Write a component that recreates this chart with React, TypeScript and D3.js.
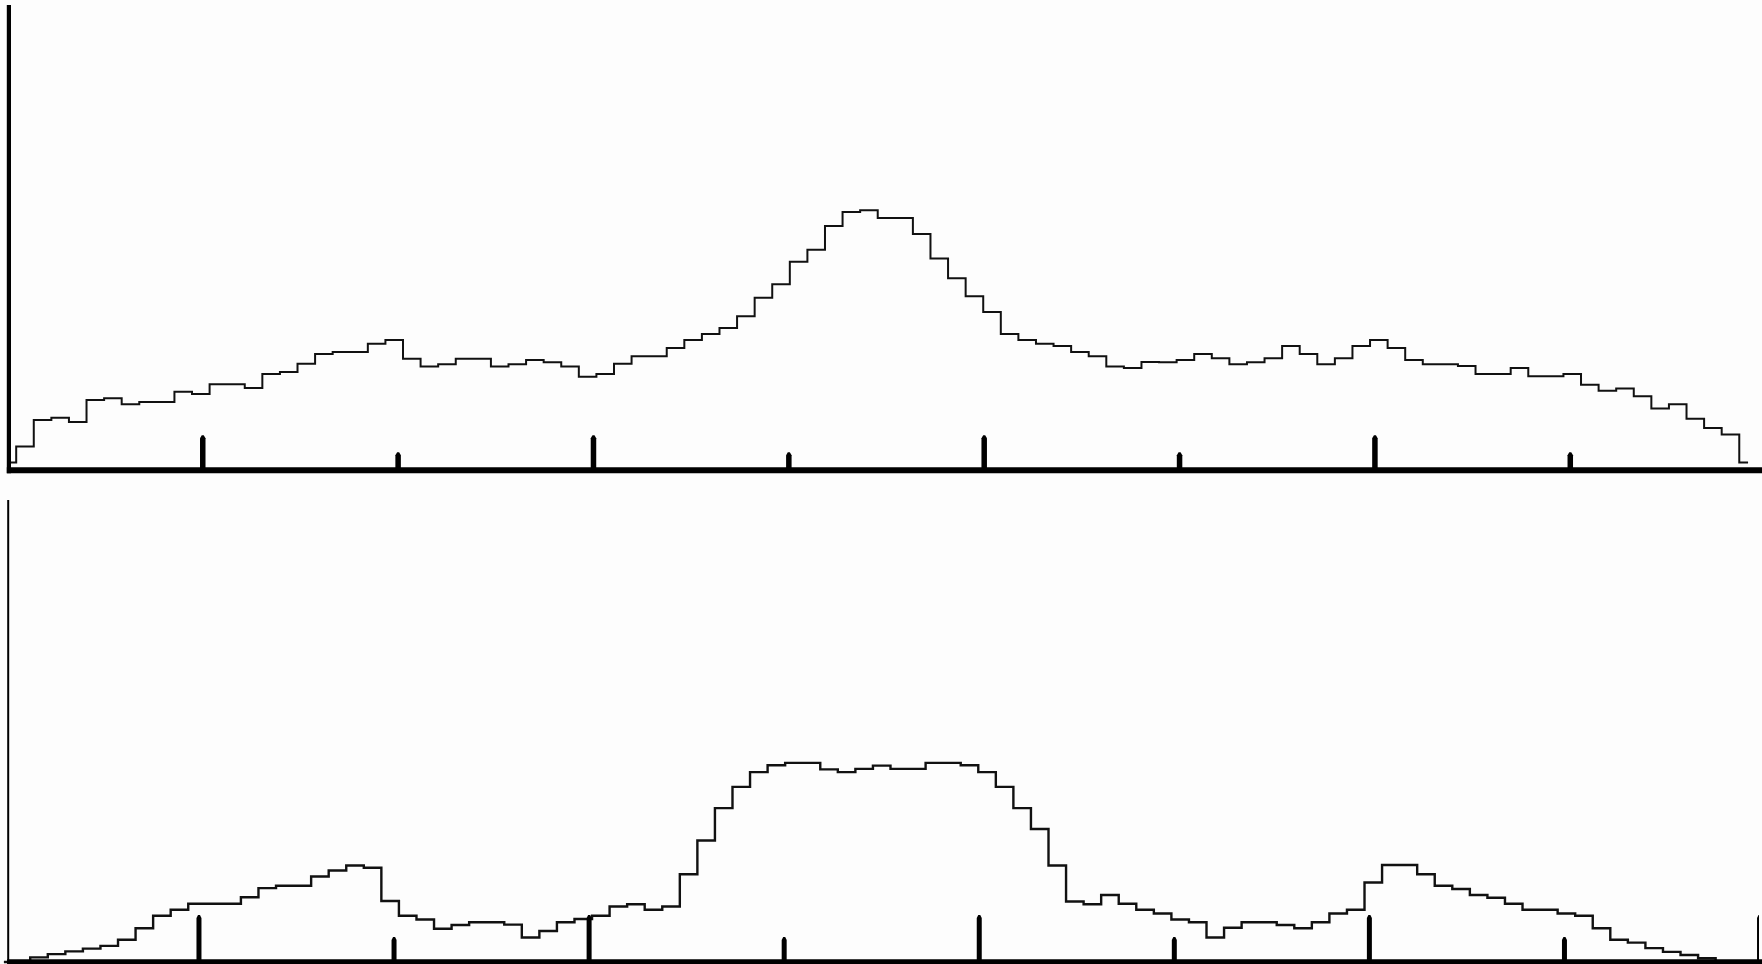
import React from "react";
import * as d3 from "d3";

// histogram bins: 100 bins of width 0.09 on [0, 9]
const binWidth = 0.09;
const tickValues = [1, 2, 3, 4, 5, 6, 7, 8, 9];

// upper histogram (relative frequency, % of axis height)
const topCounts = [
  1.7, 5.1, 10.8, 11.3, 10.4, 15.1, 15.5, 14.2, 14.7, 14.7,
  16.9, 16.4, 18.5, 18.5, 17.7, 20.7, 21.1, 22.9, 25.0, 25.4,
  25.4, 27.2, 28.0, 24.0, 22.3, 22.8, 24.0, 24.0, 22.3, 22.8,
  23.7, 23.2, 22.3, 20.1, 20.7, 22.9, 24.5, 24.5, 26.3, 28.0,
  29.3, 30.6, 33.1, 37.1, 40.0, 44.8, 47.4, 52.5, 55.5, 55.9,
  54.2, 54.2, 50.8, 45.5, 41.3, 37.4, 34.0, 29.3, 28.0, 27.2,
  26.7, 25.4, 24.5, 22.3, 22.0, 23.3, 23.2, 23.7, 25.0, 24.1,
  22.8, 23.2, 24.1, 26.7, 25.0, 22.8, 24.1, 26.7, 28.0, 26.3,
  23.7, 22.8, 22.8, 22.4, 20.7, 20.7, 22.0, 20.2, 20.2, 20.7,
  18.4, 17.1, 17.6, 15.9, 13.3, 14.2, 11.1, 9.1, 7.7, 1.7,
];

// lower histogram
const bottomCounts = [
  0, 0, 1.0, 1.7, 2.3, 2.9, 3.5, 4.8, 7.3, 10.0,
  11.3, 12.6, 12.6, 12.6, 14.0, 16.0, 16.5, 16.5, 18.5, 19.8,
  20.9, 20.4, 13.2, 10.0, 9.2, 7.2, 8.0, 8.6, 8.6, 8.1,
  5.3, 6.7, 8.6, 9.3, 10.0, 12.0, 12.5, 11.3, 12.0, 19.0,
  26.3, 33.3, 37.9, 41.1, 42.6, 43.1, 43.1, 41.7, 41.1, 41.8,
  42.5, 41.8, 41.8, 43.1, 43.1, 42.6, 41.1, 37.9, 33.3, 28.8,
  20.9, 13.1, 12.5, 14.5, 12.6, 11.3, 10.5, 9.2, 8.6, 5.3,
  7.4, 8.6, 8.6, 8.0, 7.3, 8.6, 10.5, 11.3, 17.2, 21.0,
  21.0, 19.0, 16.5, 15.8, 14.5, 13.9, 12.6, 11.3, 11.3, 10.5,
  10.0, 7.3, 4.8, 4.2, 3.0, 2.2, 1.5, 0.8, 0, 0,
];

const W = 1762;
const H = 964;

type PanelProps = {
  id: string;
  counts: number[];
  xRange: [number, number];
  yTop: number;
  yBase: number;
  axisX: number;
  yAxisWidth: number;
  xAxisWidth: number;
  lineWidth: number;
  majorLen: number;
  minorLen: number;
  tickWidth: number;
  clipRight: number;
};

// tick mark: a bar with a small narrow cap on top
const tickPath = (x: number, base: number, len: number, w: number) => {
  const top = base - len;
  return `M${x - w / 2},${base} L${x - w / 2},${top + 3} L${x - 1},${top} L${x + 1},${top} L${x + w / 2},${top + 3} L${x + w / 2},${base} Z`;
};

const Panel = ({ id, counts, xRange, yTop, yBase, axisX, yAxisWidth, xAxisWidth, lineWidth, majorLen, minorLen, tickWidth, clipRight }: PanelProps) => {
  const x = d3.scaleLinear().domain([0, 9]).range(xRange);
  const y = d3.scaleLinear().domain([0, 100]).range([yBase, yTop]);

  const line = d3
    .line<number>()
    .x((_, i) => x(i * binWidth))
    .y((d) => y(d))
    .curve(d3.curveStep);

  return (
    <g>
      <defs>
        <clipPath id={`clip-${id}`}>
          <rect x={0} y={0} width={clipRight} height={H} />
        </clipPath>
      </defs>
      <path d={line(counts) || ""} fill="none" stroke="#111" strokeWidth={lineWidth} />
      <line x1={axisX} x2={axisX} y1={yTop} y2={yBase + xAxisWidth / 2} stroke="#000" strokeWidth={yAxisWidth} />
      <line x1={axisX - yAxisWidth / 2} x2={W} y1={yBase} y2={yBase} stroke="#000" strokeWidth={xAxisWidth} />
      <g clipPath={`url(#clip-${id})`}>
        {tickValues.map((t) => (
          <path
            key={t}
            d={tickPath(x(t), yBase, t % 2 === 1 ? majorLen : minorLen, tickWidth)}
            fill="#000"
          />
        ))}
      </g>
    </g>
  );
};

export default function App() {
  return (
    <svg
      width={W}
      height={H}
      style={{ position: "absolute", left: 0, top: 0, display: "block", background: "#fdfdfd" }}
    >
      <Panel
        id="top"
        counts={topCounts}
        xRange={[7.4, 7.4 + 9 * 195.36]}
        yTop={5}
        yBase={470.3}
        axisX={8.9}
        yAxisWidth={4.2}
        xAxisWidth={6}
        lineWidth={2}
        majorLen={35}
        minorLen={18}
        tickWidth={5.5}
        clipRight={W}
      />
      <Panel
        id="bottom"
        counts={bottomCounts}
        xRange={[3.9, 3.9 + 9 * 195.07]}
        yTop={500}
        yBase={962}
        axisX={8.2}
        yAxisWidth={2}
        xAxisWidth={5.5}
        lineWidth={2.4}
        majorLen={47}
        minorLen={25}
        tickWidth={5}
        clipRight={1759}
      />
    </svg>
  );
}
